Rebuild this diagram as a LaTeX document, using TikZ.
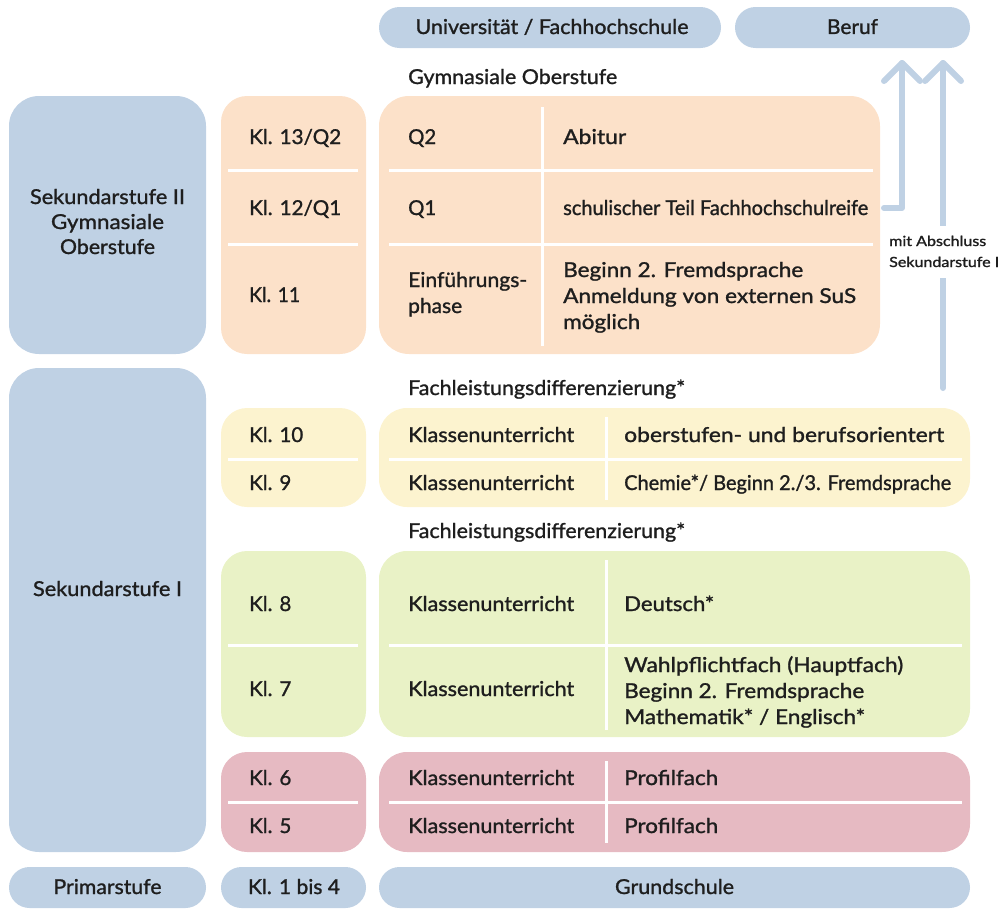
\documentclass[tikz,border=0pt]{standalone}
\usepackage{fontspec}
\setmainfont{Lato}
\newfontfamily\lat{Lato}[FakeBold=1.2]
\usepackage{graphicx}
\usetikzlibrary{calc}
\definecolor{cblue}{RGB}{191,209,228}
\definecolor{corange}{RGB}{252,225,201}
\definecolor{cyellow}{RGB}{252,243,207}
\definecolor{cgreen}{RGB}{233,242,198}
\definecolor{cred}{RGB}{230,186,194}
\definecolor{ctext}{RGB}{30,30,30}
\newcommand\fw[2]{\sbox0{#2}\pgfmathsetmacro\fwsc{#1/\the\wd0}\scalebox{\fwsc}[1]{\usebox0}}
\begin{document}
\begin{tikzpicture}[x=1pt,y=-1pt,
 box/.style={draw=none, inner sep=0pt, outer sep=0pt},
 txt/.style={inner sep=0pt, text=ctext, font=\lat\fontsize{20.5}{25}\selectfont},
 ctxt/.style={txt, anchor=base},
 ltxt/.style={txt, anchor=base west},
 sep/.style={white, line width=3pt},
 flow/.style={cblue, line width=6pt, line cap=round, line join=round},
]
\useasboundingbox (0,0) rectangle (1002,910);

% ---------- top ----------
\node[box, fill=cblue, rounded corners=20.5, minimum width=342, minimum height=41] (uni) at (550,27.5) {};
\node[box, fill=cblue, rounded corners=20.5, minimum width=235, minimum height=41] (beruf) at (852.5,27.5) {};
\node[ctxt] (tuni) at (552,34) {\fw{273}{Universität / Fachhochschule}};
\node[ctxt] (tberuf) at (852.5,34) {\fw{51}{Beruf}};

\node[ltxt] (lgym) at (408,84) {\fw{209}{Gymnasiale Oberstufe}};

% ---------- Sekundarstufe II ----------
\node[box, fill=cblue, rounded corners=30, minimum width=197, minimum height=258] (sek2) at (107.5,225) {};
\node[box, fill=corange, rounded corners=26, minimum width=145, minimum height=258] (kl2) at (293.5,225) {};
\node[box, fill=corange, rounded corners=30, minimum width=501, minimum height=258] (ober) at (629.5,225) {};
\draw[sep] (228,170) -- (358,170);
\draw[sep] (228,244) -- (358,244);
\draw[sep] (389,170) -- (873,170);
\draw[sep] (389,244) -- (873,244);
\draw[sep] (542,107) -- (542,346);

\node[ctxt] (s2a) at (107.5,204) {\fw{155}{Sekundarstufe II}};
\node[ctxt] (s2b) at (107.5,229) {\fw{113}{Gymnasiale}};
\node[ctxt] (s2c) at (107.5,254) {\fw{95}{Oberstufe}};

\node[ltxt] (k13) at (249,144) {\fw{92}{Kl. 13/Q2}};
\node[ltxt] (k12) at (249,215) {\fw{92}{Kl. 12/Q1}};
\node[ltxt] (k11) at (249,302) {\fw{51}{Kl. 11}};

\node[ltxt] (q2) at (408,144) {\fw{28}{Q2}};
\node[ltxt] (abi) at (563,144) {\fw{63}{Abitur}};
\node[ltxt] (q1) at (408,215) {\fw{28}{Q1}};
\node[ltxt] (fhr) at (563,215) {\fw{305}{schulischer Teil Fachhochschulreife}};
\node[ltxt] (ein1) at (408,287) {\fw{119}{Einführungs-}};
\node[ltxt] (ein2) at (408,313) {\fw{54}{phase}};
\node[ltxt] (ef1) at (563,277) {\fw{240}{Beginn 2. Fremdsprache}};
\node[ltxt] (ef2) at (563,303) {\fw{293}{Anmeldung von externen SuS}};
\node[ltxt] (ef3) at (563,329) {\fw{77}{möglich}};

% ---------- Sekundarstufe I ----------
\node[box, fill=cblue, rounded corners=30, minimum width=197, minimum height=484] (sek1) at (107.5,610) {};
\node[ctxt] (s1) at (107.5,596) {\fw{149}{Sekundarstufe I}};

\node[ltxt] (fl1) at (408,395) {\fw{277}{Fachleistungsdifferenzierung*}};
\node[ltxt] (fl2) at (408,538) {\fw{277}{Fachleistungsdifferenzierung*}};

% yellow
\node[box, fill=cyellow, rounded corners=26, minimum width=145, minimum height=99] (kly) at (293.5,457.5) {};
\node[box, fill=cyellow, rounded corners=28, minimum width=591, minimum height=99] (mainy) at (674.5,457.5) {};
\draw[sep] (228,459) -- (358,459);
\draw[sep] (389,459) -- (962,459);
\draw[sep] (606,417) -- (606,500);
\node[ltxt] (k10) at (249,442) {Kl. 10};
\node[ltxt] (k9) at (249,490) {Kl. 9};
\node[ltxt] (ky1) at (408,442) {\fw{166}{Klassenunterricht}};
\node[ltxt] (ky2) at (408,490) {\fw{166}{Klassenunterricht}};
\node[ltxt] (oy1) at (624,442) {\fw{320}{oberstufen- und berufsorientert}};
\node[ltxt] (oy2) at (624,490) {\fw{327}{Chemie*/ Beginn 2./3. Fremdsprache}};

% green
\node[box, fill=cgreen, rounded corners=26, minimum width=145, minimum height=186] (klg) at (293.5,644) {};
\node[box, fill=cgreen, rounded corners=28, minimum width=591, minimum height=186] (maing) at (674.5,644) {};
\draw[sep] (228,645) -- (358,645);
\draw[sep] (389,645) -- (962,645);
\draw[sep] (606,560) -- (606,730);
\node[ltxt] (k8) at (249,611) {Kl. 8};
\node[ltxt] (k7) at (249,696) {Kl. 7};
\node[ltxt] (kg1) at (408,611) {\fw{166}{Klassenunterricht}};
\node[ltxt] (kg2) at (408,696) {\fw{166}{Klassenunterricht}};
\node[ltxt] (dt) at (624,611) {\fw{90}{Deutsch*}};
\node[ltxt] (wp1) at (624,672) {\fw{279}{Wahlpflichtfach (Hauptfach)}};
\node[ltxt] (wp2) at (624,698) {\fw{240}{Beginn 2. Fremdsprache}};
\node[ltxt] (wp3) at (624,724) {\fw{241}{Mathematik* / Englisch*}};

% red
\node[box, fill=cred, rounded corners=26, minimum width=145, minimum height=100] (klr) at (293.5,802) {};
\node[box, fill=cred, rounded corners=28, minimum width=591, minimum height=100] (mainr) at (674.5,802) {};
\draw[sep] (228,802) -- (358,802);
\draw[sep] (389,802) -- (962,802);
\draw[sep] (606,761) -- (606,843);
\node[ltxt] (k6) at (249,785) {Kl. 6};
\node[ltxt] (k5) at (249,833) {Kl. 5};
\node[ltxt] (kr1) at (408,785) {\fw{166}{Klassenunterricht}};
\node[ltxt] (kr2) at (408,833) {\fw{166}{Klassenunterricht}};
\node[ltxt] (pf1) at (624,785) {\fw{94}{Profilfach}};
\node[ltxt] (pf2) at (624,833) {\fw{94}{Profilfach}};

% ---------- Primarstufe ----------
\node[box, fill=cblue, rounded corners=20.5, minimum width=197, minimum height=41] (prim) at (107.5,887.5) {};
\node[box, fill=cblue, rounded corners=20.5, minimum width=145, minimum height=41] (kl14) at (293.5,887.5) {};
\node[box, fill=cblue, rounded corners=20.5, minimum width=591, minimum height=41] (grund) at (674.5,887.5) {};
\node[ctxt] (tprim) at (107.5,894) {\fw{108}{Primarstufe}};
\node[ctxt] (tkl14) at (294,894) {\fw{92}{Kl. 1 bis 4}};
\node[ctxt] (tgrund) at (674.5,894) {\fw{119}{Grundschule}};

% ---------- arrows ----------
\coordinate (a1s) at (884,208);
\coordinate (a1c) at (902,208);
\coordinate (a1e) at (902,63);
\coordinate (a2s) at (943,388);
\coordinate (a2e) at (943,63);
\draw[flow] (a1s) -- (a1c) -- (a1e);
\draw[flow] ($(a1e)+(-18,18)$) -- (a1e) -- ($(a1e)+(18,18)$);
\draw[flow] (a2s) -- (a2e);
\draw[flow] ($(a2e)+(-18,18)$) -- (a2e) -- ($(a2e)+(18,18)$);
\fill[white] (890,226) rectangle (1000,278);
\node[txt, font=\lat\fontsize{14}{21}\selectfont, align=left, anchor=base west] (abs) at (889,267) {\fw{97}{mit Abschluss}\\\fw{110}{Sekundarstufe I}};
\end{tikzpicture}
\end{document}
